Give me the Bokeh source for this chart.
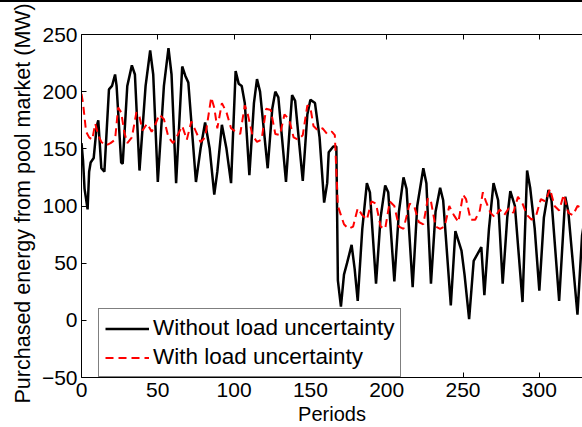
from bokeh.plotting import figure
from bokeh.layouts import row
from bokeh.models import (LinearAxis, FixedTicker, Legend, LegendItem, Div,
                          Range1d, CustomJSTickFormatter)
from bokeh.embed import file_html
from bokeh.resources import INLINE

# ---- data ----
periods_without = [0, 1, 2, 4, 5, 6, 8, 10, 11, 13, 15, 18, 20, 22, 23, 26, 27, 30, 33, 35,
                   38, 42, 45, 47, 50, 54, 57, 59, 62, 66, 68, 70, 75, 78, 81, 84, 87, 89, 92, 95,
                   98, 101, 103, 105, 107, 110, 113, 115, 117, 122, 125, 127, 129, 134, 136, 138, 140, 145, 148, 150,
                   153, 156, 159, 161, 162, 165, 167, 168, 170, 172, 174, 177, 179, 181, 184, 187, 189, 193, 196, 199,
                   201, 205, 208, 211, 213, 217, 220, 224, 226, 229, 232, 235, 237, 242, 245, 249, 251, 254, 257, 262,
                   264, 267, 270, 273, 276, 279, 281, 284, 289, 292, 294, 297, 300, 303, 306, 308, 313, 317, 319, 325,
                   328, 331, 334, 336]
energy_without = [155, 140, 115, 97, 130, 138, 142, 170, 175, 133, 130, 202, 205, 215, 205, 138, 137, 205, 223, 215,
                  131, 205, 236, 215, 121, 205, 238, 215, 120, 222, 214, 208, 121, 150, 173, 150, 110, 130, 171, 150,
                  120, 218, 207, 205, 190, 127, 190, 211, 200, 133, 185, 200, 195, 121, 160, 197, 192, 122, 180, 193,
                  190, 160, 103, 120, 147, 152, 152, 35, 12, 40, 50, 66, 45, 17, 80, 120, 112, 32, 90, 118,
                  112, 34, 95, 125, 115, 29, 100, 133, 120, 32, 95, 116, 105, 13, 78, 61, 40, 1, 52, 64,
                  22, 80, 120, 105, 32, 90, 113, 100, 16, 131, 116, 80, 26, 90, 114, 105, 17, 108, 95, 5,
                  74, 100, 60, 30]

periods_with = [0, 1, 3, 5, 7, 9, 11, 13, 16, 19, 22, 24, 26, 28, 30, 33, 36, 38, 40, 43,
                46, 48, 51, 54, 57, 60, 63, 66, 69, 72, 75, 78, 81, 85, 87, 89, 92, 95, 98, 101,
                104, 107, 109, 112, 115, 118, 121, 124, 127, 130, 133, 136, 139, 142, 145, 148, 150, 152, 155, 158,
                161, 164, 166, 167, 168, 170, 172, 175, 178, 181, 184, 187, 190, 193, 196, 199, 202, 205, 208, 211,
                215, 218, 221, 224, 227, 229, 232, 235, 238, 241, 244, 247, 250, 252, 255, 258, 261, 263, 265, 268,
                271, 274, 277, 280, 283, 286, 289, 292, 295, 298, 301, 304, 307, 310, 313, 316, 319, 322, 325, 328,
                331, 334, 336]
energy_with = [198, 190, 165, 160, 158, 172, 162, 156, 153, 155, 158, 186, 182, 165, 155, 160, 182, 178, 166, 172,
               165, 170, 180, 176, 160, 155, 162, 170, 158, 174, 165, 156, 160, 195, 186, 168, 190, 182, 168, 165,
               163, 188, 180, 162, 156, 158, 185, 184, 163, 162, 180, 176, 160, 158, 162, 188, 186, 170, 166, 168,
               163, 165, 162, 130, 100, 92, 84, 80, 82, 98, 92, 88, 104, 102, 82, 80, 104, 100, 82, 80,
               102, 100, 86, 84, 107, 104, 82, 80, 82, 100, 92, 86, 110, 106, 88, 88, 96, 112, 104, 94,
               90, 97, 92, 98, 94, 108, 102, 92, 88, 92, 106, 104, 115, 100, 96, 110, 94, 92, 100, 98,
               96, 92, 95]

x_ticks = [0, 50, 100, 150, 200, 250, 300]
y_ticks = [-50, 0, 50, 100, 150, 200, 250]
series_names = ["Without load uncertainty", "With load uncertainty"]
x_label = "Periods"
y_label = "Purchased energy from pool market (MW)"

FONT = "Liberation Sans"
TOP_RULE = "2px solid black"

# ---- strip holding the long single-line y-axis title (rotated text) ----
ytitle = Div(
    text=('<div style="transform: rotate(-90deg); white-space: nowrap; '
          "font-family: 'Liberation Sans'; font-size: 21.5px; color: black; "
          'position: relative; top: -10.5px; left: 4px;">' + y_label + '</div>'),
    width=38, height=425, margin=0,
    styles={"display": "flex", "align-items": "center", "justify-content": "center",
            "border-top": TOP_RULE, "overflow": "visible", "background-color": "white"})

# ---- main chart ----
p = figure(width=544, height=425, output_backend="svg", toolbar_location=None,
           x_range=Range1d(0, 328.3), y_range=Range1d(-50, 250),
           min_border_left=40, min_border_top=32, min_border_bottom=48, min_border_right=0,
           x_axis_label=x_label, margin=0)
p.styles = {"border-top": TOP_RULE}
p.outline_line_color = None
p.grid.visible = False
p.background_fill_color = "white"
p.border_fill_color = "white"

for ax in (p.xaxis[0], p.yaxis[0]):
    ax.major_tick_in = 5
    ax.major_tick_out = 0
    ax.minor_tick_in = 0
    ax.minor_tick_out = 0
    ax.axis_line_color = "black"
    ax.axis_line_width = 1
    ax.major_tick_line_color = "black"
    ax.major_label_text_font = FONT
    ax.major_label_text_font_size = "21px"
    ax.major_label_text_color = "black"
    ax.axis_label_text_font = FONT
    ax.axis_label_text_font_style = "normal"
    ax.axis_label_text_color = "black"

p.xaxis[0].ticker = FixedTicker(ticks=x_ticks)
p.yaxis[0].ticker = FixedTicker(ticks=y_ticks)
p.xaxis[0].major_label_standoff = 5
p.xaxis[0].axis_label_standoff = 3
p.xaxis[0].axis_label_text_font_size = "20px"
p.yaxis[0].major_label_standoff = 4

top = LinearAxis(ticker=FixedTicker(ticks=x_ticks),
                 formatter=CustomJSTickFormatter(code="return ''"))
top.major_tick_in = 5
top.major_tick_out = 0
top.minor_tick_in = 0
top.minor_tick_out = 0
top.major_label_standoff = 0
top.axis_line_color = "black"
top.major_tick_line_color = "black"
p.add_layout(top, "above")

r1 = p.line(periods_without, energy_without, color="black", line_width=2.5)
r2 = p.line(periods_with, energy_with, color="red", line_width=2, line_dash="8 5")

legend = Legend(items=[LegendItem(label=series_names[0], renderers=[r1]),
                       LegendItem(label=series_names[1], renderers=[r2])],
                location=(17, 0))
legend.label_text_font = FONT
legend.label_text_font_size = "22.5px"
legend.label_text_color = "black"
legend.glyph_width = 44
legend.glyph_height = 25
legend.label_height = 25
legend.label_standoff = 4
legend.padding = 6
legend.spacing = 3
legend.margin = 0
legend.border_line_color = "black"
legend.border_line_width = 1
legend.background_fill_alpha = 1
p.add_layout(legend)

layout = row(ytitle, p, spacing=0, margin=0)
open("out.html", "w").write(file_html(layout, INLINE))
